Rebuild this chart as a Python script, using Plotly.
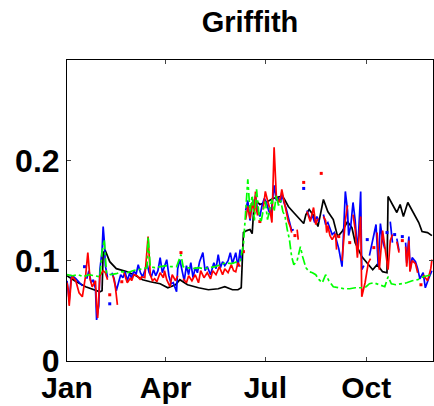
import pandas as pd
import plotly.graph_objects as go

# Day-of-year offsets (from 1 Jan) and values for each series; None marks a gap.
black_days = [0, 7, 17, 25, 30, 32, 33, 35, 39, 45, 55, 63, 69, 76, 85, 92, 99, 103, 110, 120,
              129, 138, 144, 151, 156, 159, 161, 164, 167, 169, 171, 176, 183, 188, 195, 198, 202,
              206, 211, 216, 218, 221, 225, 229, 234, 238, 243, 247, 251, 256, 260, 263, 269, 275,
              279, 283, 288, 292, 293, 298, 301, 304, 307, 311, 316, 321, 324, 329, 333]
black_vals = [0.085, 0.080, 0.074, 0.071, 0.069, 0.070, 0.108, 0.110, 0.099, 0.092, 0.089, 0.085,
              0.081, 0.079, 0.077, 0.073, 0.076, 0.081, 0.076, 0.073, 0.071, 0.072, 0.074, 0.071,
              0.071, 0.073, 0.128, 0.130, 0.131, 0.127, 0.161, 0.156, 0.159, 0.162, 0.164, 0.162,
              0.154, 0.149, 0.143, 0.137, 0.146, 0.151, 0.145, 0.134, 0.161, 0.149, 0.141, 0.124,
              0.129, 0.139, 0.133, 0.118, 0.104, 0.096, 0.091, 0.096, 0.089, 0.088, 0.164, 0.154,
              0.148, 0.156, 0.144, 0.158, 0.148, 0.138, 0.129, 0.128, 0.125]

blue_days = [0, 2, 4, 6, 8, 11, 14, 15, 16, 17, 18, 20, 22, 24, 26, 27, 29, 30, 32, 33, 34, 35,
             37, 38, 39, 40, 41, 43, 45, 47, 49, 51, 53, 55, 57, 59, 61, 63, 65, 67, 69, 71, 73,
             75, 77, 79, 81, 83, 85, 87, 89, 91, 93, 95, 97, 100, 101, 103, 105, 107, 109, 111,
             113, 115, 117, 119, 121, 124, 126, 128, 131, 134, 136, 138, 140, 142, 144, 147, 149,
             151, 154, 156, 158, 159, 160,
             163, 165, 167, 169, 171, 172, 174, 176, 178, 180, 182, 184, 186, 188, 189, 191, 193,
             195, 196, 198, 200, 202, 204, 205, 207, 209, 216, 217, 219, 222, 224, 226, 228, 230,
             232, 234, 236, 238, 240, 242, 244, 246, 248, 251, 253, 254, 256, 257, 259, 261, 263,
             265, 266, 268, 269, 271, 272, 274, 275, 276, 278, 280, 282, 284, 286, 288, 290, 291,
             292, 293, 295, 297, 298, 299, 300, 301, 303, 305, 306, 307, 309, 310, 312, 313, 315,
             318, 320, 322, 325, 327, 330, 333]
blue_vals = [0.080, 0.060, 0.085, 0.084, 0.082, 0.078, 0.075, None, 0.094, None, 0.082, 0.090,
             0.078, 0.081, 0.072, 0.041, 0.055, 0.091, 0.110, 0.134, 0.120, 0.095, 0.083, None,
             0.057, None, 0.088, 0.082, 0.070, 0.078, 0.086, 0.083, 0.089, 0.080, 0.087, 0.083,
             0.090, 0.086, 0.096, 0.088, 0.084, 0.090, 0.097, 0.088, 0.084, 0.091, 0.085, 0.090,
             0.103, 0.088, 0.095, 0.101, 0.085, 0.077, 0.078, 0.069, 0.092, 0.101, 0.090, 0.080,
             0.095, 0.086, 0.098, 0.083, 0.093, 0.088, 0.099, 0.108, 0.090, 0.094, 0.086, 0.098,
             0.092, 0.106, 0.093, 0.099, 0.095, 0.100, 0.108, 0.097, 0.108, 0.094, 0.111, 0.100,
             None,
             0.150, 0.160, 0.140, 0.158, 0.152, 0.165, 0.150, 0.144, 0.155, 0.162, 0.158, 0.150,
             0.145, 0.165, 0.175, 0.160, 0.162, 0.158, 0.168, 0.158, 0.152, 0.143, 0.134, 0.130,
             0.131, None, 0.172, None, 0.150, 0.141, 0.145, 0.138, 0.144, 0.139, None, 0.146,
             0.136, 0.138, 0.131, 0.126, 0.128, 0.120, 0.112, 0.094, 0.140, 0.169, 0.150, 0.125,
             0.135, 0.158, 0.140, 0.110, 0.125, 0.169, 0.091, 0.095, None, 0.121, None, 0.105,
             0.115, 0.128, 0.136, 0.095, 0.137, 0.120, 0.112, None, 0.128, None, 0.139, 0.118,
             None, 0.126, None, 0.122, 0.110, None, 0.124, None, 0.118, 0.098, 0.124, 0.090,
             0.103, 0.099, 0.092, 0.082, 0.088, 0.073, 0.082, 0.090]

red_days = [0, 1, 2, 4, 5, 8, 11, 14, 16, 17, 19, 21, 23, 26, 27, 28, 30, 33, 35, 37, 38, 39, 40,
            42, 44, 46, 47, 50, 51, 52, 55, 58, 59, 61, 64, 67, 68, 71, 74, 76, 78, 80, 82, 85,
            88, 89, 91, 94, 96, 99, 101, 102, 104, 105, 106, 109, 111, 114, 117, 120, 122, 125,
            128, 131, 133, 136, 139, 142, 144, 147, 150, 152, 154, 156, 158, 159, 161, 162,
            163, 165, 167, 169, 171, 172, 173, 174, 175, 176, 177, 179, 181, 183, 185, 187, 189,
            191, 193, 195, 196, 198, 200, 202, 204, 205, 206, 208, 209, 210, 211, 213, 216, 217,
            219, 222, 225, 227, 229, 230, 232, 233, 234, 236, 237, 238, 240, 242, 245, 246, 247,
            248, 249, 251, 254, 256, 257, 258, 259, 261, 263, 265, 266, 268, 269, 272, 275, 277,
            278, 280, 281, 283, 285, 288, 290, 293, 295, 297, 299, 301, 303, 304, 306, 307, 309,
            310, 312, 313, 315, 318, 320, 322, 323, 324, 325, 329, 332, 333]
red_vals = [0.078, 0.072, 0.055, 0.082, 0.084, 0.080, 0.068, 0.064, 0.078, 0.085, 0.108, 0.082,
            0.074, 0.080, 0.055, 0.043, 0.085, 0.090, 0.088, 0.081, None, 0.066, None, 0.085,
            0.075, 0.056, None, 0.079, None, 0.088, 0.078, 0.083, 0.080, 0.086, 0.085, 0.081,
            0.084, 0.083, 0.124, 0.086, 0.080, 0.082, 0.079, 0.088, 0.083, 0.090, 0.081, 0.074,
            0.086, 0.080, 0.085, None, 0.108, None, 0.082, 0.078, 0.085, 0.080, 0.086, 0.078,
            0.090, 0.083, 0.088, 0.082, 0.090, 0.086, 0.094, 0.086, 0.092, 0.088, 0.096, 0.090,
            0.089, 0.098, 0.094, None, 0.109, None,
            0.141, 0.154, 0.142, 0.158, 0.148, 0.169, 0.150, 0.145, None, 0.139, None, 0.151,
            0.169, 0.160, 0.152, 0.138, 0.213, 0.165, 0.158, 0.163, 0.171, 0.160, 0.148, 0.139,
            0.133, 0.128, None, 0.125, None, 0.131, 0.121, None, 0.178, None, 0.149, 0.139,
            0.153, 0.136, 0.142, None, 0.187, None, 0.144, 0.140, 0.128, 0.135, 0.125, 0.121,
            0.127, 0.111, None, 0.124, None, 0.100, 0.140, 0.155, None, 0.118, None, 0.146,
            0.131, 0.103, 0.118, 0.144, 0.064, 0.078, 0.098, 0.102, None, 0.113, None, 0.128,
            0.091, 0.130, 0.114, 0.091, 0.120, 0.126, None, 0.119, 0.108, None, 0.120, None,
            0.114, 0.094, 0.120, 0.089, 0.100, 0.097, 0.088, None, 0.076, None, 0.086, 0.080,
            0.092, 0.101]

green_days = [0, 5, 10, 15, 20, 25, 30, 32, 34, 36, 40, 45, 50, 55, 60, 65, 70, 73, 74, 76, 80,
              85, 90, 95, 100, 104, 106, 110, 115, 120, 125, 130, 135, 140, 145, 150, 155, 158,
              161, 163, 165, 167, 169, 171, 173, 175, 177, 179, 181, 183, 185, 187, 189, 191, 193,
              195, 197, 199, 201, 203, 205, 207, 210, 213, 215, 218, 221, 224, 227, 230, 233, 236,
              239, 243, 248, 253, 258, 263, 268, 273, 276, 280, 285, 290, 293, 296, 300, 305, 310,
              315, 320, 325, 330, 333]
green_vals = [0.086, 0.085, 0.086, 0.084, 0.086, 0.085, 0.084, 0.109, 0.121, 0.088, 0.086, 0.087,
              0.089, 0.088, 0.090, 0.091, 0.092, 0.093, 0.124, 0.094, 0.093, 0.094, 0.095, 0.094,
              0.094, 0.106, 0.094, 0.093, 0.092, 0.093, 0.092, 0.093, 0.094, 0.096, 0.098, 0.097,
              0.099, 0.100, 0.116, 0.150, 0.181, 0.149, 0.165, 0.140, 0.171, 0.148, 0.138, 0.150,
              0.159, 0.141, 0.150, 0.161, 0.149, 0.165, 0.155, 0.160, 0.149, 0.144, 0.131, 0.121,
              0.104, 0.096, 0.100, 0.114, 0.104, 0.093, 0.089, 0.088, 0.086, 0.081, 0.078, 0.086,
              0.080, 0.074, 0.073, 0.072, 0.072, 0.073, 0.073, 0.074, 0.077, 0.078, 0.076, 0.074,
              0.084, 0.077, 0.076, 0.077, 0.078, 0.080, 0.081, 0.084, 0.085, 0.086]

month_ticks = ["2001-01-01", "2001-04-01", "2001-07-01", "2001-10-01"]
month_labels = ["Jan", "Apr", "Jul", "Oct"]
y_ticks = [0, 0.1, 0.2]
y_labels = ["<b>0</b>", "<b>0.1</b>", "<b>0.2</b>"]

start = pd.Timestamp("2001-01-01")


def to_dates(days):
    return [start + pd.Timedelta(days=d) for d in days]


def isolated(days, vals):
    """Points with gaps on both sides, which a line alone would not show."""
    xs, ys = [], []
    for i, v in enumerate(vals):
        if v is None:
            continue
        prev_gap = i == 0 or vals[i - 1] is None
        next_gap = i == len(vals) - 1 or vals[i + 1] is None
        if prev_gap and next_gap:
            xs.append(days[i])
            ys.append(v)
    return to_dates(xs), ys


fig = go.Figure()

series = [
    (black_days, black_vals, "black", "solid"),
    (blue_days, blue_vals, "#0000ff", "solid"),
    (red_days, red_vals, "#ff0000", "solid"),
    (green_days, green_vals, "#00ff00", "dashdot"),
]

for days, vals, color, dash in series:
    fig.add_trace(go.Scatter(
        x=to_dates(days), y=vals, mode="lines",
        line=dict(color=color, width=1.7, dash=dash),
        connectgaps=False, showlegend=False, hoverinfo="skip",
    ))
    ix, iy = isolated(days, vals)
    if ix:
        fig.add_trace(go.Scatter(
            x=ix, y=iy, mode="markers",
            marker=dict(color=color, size=3, symbol="square"),
            showlegend=False, hoverinfo="skip",
        ))

font_family = "Liberation Sans, Arial, sans-serif"

fig.update_layout(
    width=434, height=406,
    margin=dict(l=67, r=1, t=60, b=45),
    paper_bgcolor="white", plot_bgcolor="white",
    title=dict(text="<b>Griffith</b>", x=0.5, xanchor="center", xref="paper",
               y=0.945, yanchor="middle", yref="container",
               font=dict(family=font_family, size=29, color="black")),
    font=dict(family=font_family, size=30, color="black"),
)

fig.update_xaxes(
    type="date", range=["2001-01-01", "2001-12-01"],
    tickvals=month_ticks, ticktext=["<b>%s</b>" % m for m in month_labels],
    ticks="inside", ticklen=4, tickcolor="#444", tickwidth=1,
    showline=True, linecolor="black", linewidth=1, mirror="ticks",
    showgrid=False, zeroline=False,
    tickfont=dict(family=font_family, size=30, color="black"),
)
fig.update_yaxes(
    range=[0, 0.3],
    tickvals=y_ticks, ticktext=y_labels,
    ticks="inside", ticklen=4, tickcolor="#444", tickwidth=1,
    showline=True, linecolor="black", linewidth=1, mirror="ticks",
    showgrid=False, zeroline=False,
    tickfont=dict(family=font_family, size=32, color="black"),
)

fig.write_html("out.html")
